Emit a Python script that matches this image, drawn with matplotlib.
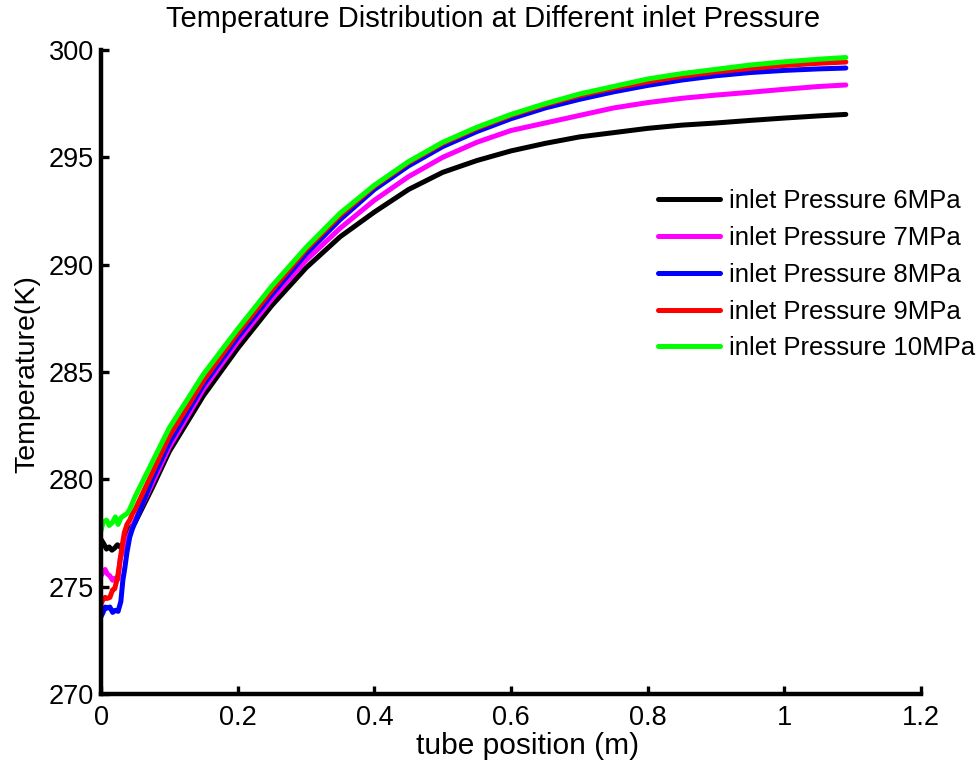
import matplotlib
matplotlib.use("Agg")
import matplotlib.pyplot as plt
import numpy as np

plt.rcParams['font.family'] = ['Liberation Sans', 'DejaVu Sans']

# ---------------- data ----------------
labels = ["inlet Pressure 6MPa", "inlet Pressure 7MPa", "inlet Pressure 8MPa",
          "inlet Pressure 9MPa", "inlet Pressure 10MPa"]
colors = ["#000000", "#ff00ff", "#0000ff", "#ff0000", "#00ff00"]

# common smooth part (tube position, m)
x_main = [0.05, 0.075, 0.1, 0.15, 0.2, 0.25, 0.3, 0.35, 0.4, 0.45, 0.5, 0.55,
          0.6, 0.65, 0.7, 0.75, 0.8, 0.85, 0.9, 0.95, 1.0, 1.05, 1.09]

# 6 MPa (black)
x_start_6 = [0.0, 0.004, 0.008, 0.012, 0.016, 0.02, 0.024, 0.028, 0.032, 0.036, 0.04, 0.045]
t_start_6 = [277.2, 277.0, 276.75, 276.85, 276.7, 276.8, 276.95, 276.85, 277.0, 277.3, 277.6, 277.8]
t_main_6 = [278.0, 279.6, 281.3, 283.9, 286.1, 288.1, 289.85, 291.3, 292.45, 293.5, 294.3, 294.85,
            295.3, 295.65, 295.95, 296.15, 296.35, 296.5, 296.6, 296.72, 296.83, 296.93, 297.0]

# 7 MPa (magenta)
x_start_7 = [0.0, 0.003, 0.006, 0.009, 0.013, 0.017, 0.021, 0.025, 0.028, 0.031, 0.035, 0.04, 0.045]
t_start_7 = [275.5, 275.7, 275.8, 275.6, 275.5, 275.3, 275.4, 275.35, 276.3, 276.6, 276.8, 277.3, 277.7]
t_main_7 = [278.1, 279.8, 281.5, 284.2, 286.4, 288.4, 290.2, 291.7, 293.0, 294.1, 295.0, 295.7,
            296.25, 296.6, 296.95, 297.3, 297.55, 297.75, 297.9, 298.03, 298.17, 298.3, 298.37]

# 8 MPa (blue)
x_start_8 = [0.0, 0.003, 0.006, 0.009, 0.013, 0.017, 0.021, 0.025, 0.029, 0.032, 0.035, 0.038, 0.042, 0.046]
t_start_8 = [273.6, 273.8, 274.05, 274.0, 274.05, 273.8, 273.9, 273.85, 274.3, 275.3, 275.9, 276.6, 277.3, 277.7]
t_main_8 = [278.0, 280.0, 281.7, 284.4, 286.6, 288.6, 290.5, 292.1, 293.5, 294.6, 295.5, 296.2,
            296.8, 297.3, 297.7, 298.05, 298.35, 298.6, 298.8, 298.95, 299.05, 299.12, 299.16]

# 9 MPa (red)
x_start_9 = [0.0, 0.003, 0.006, 0.009, 0.013, 0.017, 0.02, 0.024, 0.027, 0.03, 0.034, 0.038, 0.042, 0.046]
t_start_9 = [274.2, 274.4, 274.5, 274.45, 274.5, 274.85, 274.9, 275.4, 276.0, 276.7, 277.5, 277.9, 278.1, 278.4]
t_main_9 = [278.6, 280.3, 282.0, 284.6, 286.8, 288.8, 290.7, 292.3, 293.65, 294.75, 295.65, 296.35,
            296.95, 297.45, 297.88, 298.22, 298.52, 298.78, 298.98, 299.14, 299.28, 299.38, 299.44]

# 10 MPa (green)
x_start_10 = [0.0, 0.003, 0.008, 0.012, 0.017, 0.021, 0.025, 0.029, 0.033, 0.038, 0.042, 0.046]
t_start_10 = [277.6, 278.0, 278.1, 277.85, 278.0, 278.25, 277.9, 278.2, 278.3, 278.4, 278.6, 278.9]
t_main_10 = [279.2, 280.8, 282.4, 284.9, 287.0, 289.0, 290.8, 292.4, 293.7, 294.8, 295.7, 296.4,
             297.0, 297.5, 297.95, 298.3, 298.65, 298.9, 299.1, 299.3, 299.45, 299.57, 299.65]

xticks = [0, 0.2, 0.4, 0.6, 0.8, 1.0, 1.2]
xticklabels = ["0", "0.2", "0.4", "0.6", "0.8", "1", "1.2"]
yticks = [270, 275, 280, 285, 290, 295, 300]

series = [
    (x_start_6, t_start_6, t_main_6),
    (x_start_7, t_start_7, t_main_7),
    (x_start_8, t_start_8, t_main_8),
    (x_start_9, t_start_9, t_main_9),
    (x_start_10, t_start_10, t_main_10),
]

# ---------------- figure ----------------
fig = plt.figure(figsize=(9.8, 7.67), dpi=100)
ax = fig.add_axes([101/980, 1 - 694/767, (921 - 101)/980, (694 - 50)/767])

for (xs, ts, tm), c, lab in zip(series, colors, labels):
    x = list(xs) + list(x_main)
    y = list(ts) + list(tm)
    ax.plot(x, y, color=c, lw=3.6, label=lab, solid_joinstyle='round', solid_capstyle='round')

ax.set_xlim(0, 1.2)
ax.set_ylim(270, 300)
ax.set_xticks(xticks)
ax.set_xticklabels(xticklabels)
ax.set_yticks(yticks)

for s in ['top', 'right']:
    ax.spines[s].set_visible(False)
for s in ['left', 'bottom']:
    ax.spines[s].set_linewidth(3.2)
    ax.spines[s].set_capstyle('projecting')

ax.tick_params(axis='both', direction='in', length=6, width=2.4, labelsize=19.5, color='black')
ax.tick_params(axis='y', pad=5)
ax.tick_params(axis='x', pad=8)

fig.text(27/980, 1 - 374/767, "Temperature(K)", rotation=90, ha='center', va='center', fontsize=20.5)
fig.text(528/980, 1 - 746/767, "tube position (m)", ha='center', va='center', fontsize=21.5)
fig.text(493/980, 1 - 19/767, "Temperature Distribution at Different inlet Pressure",
         ha='center', va='center', fontsize=21)

leg = ax.legend(loc='upper left', bbox_to_anchor=(658/980, 1 - 189/767),
                bbox_transform=fig.transFigure, frameon=False, fontsize=18.5,
                handlelength=2.4, handletextpad=0.35, labelspacing=0.5,
                borderpad=0, borderaxespad=0)
for l in leg.get_lines():
    l.set_linewidth(3.6)

fig.savefig("out.png", dpi=100)
